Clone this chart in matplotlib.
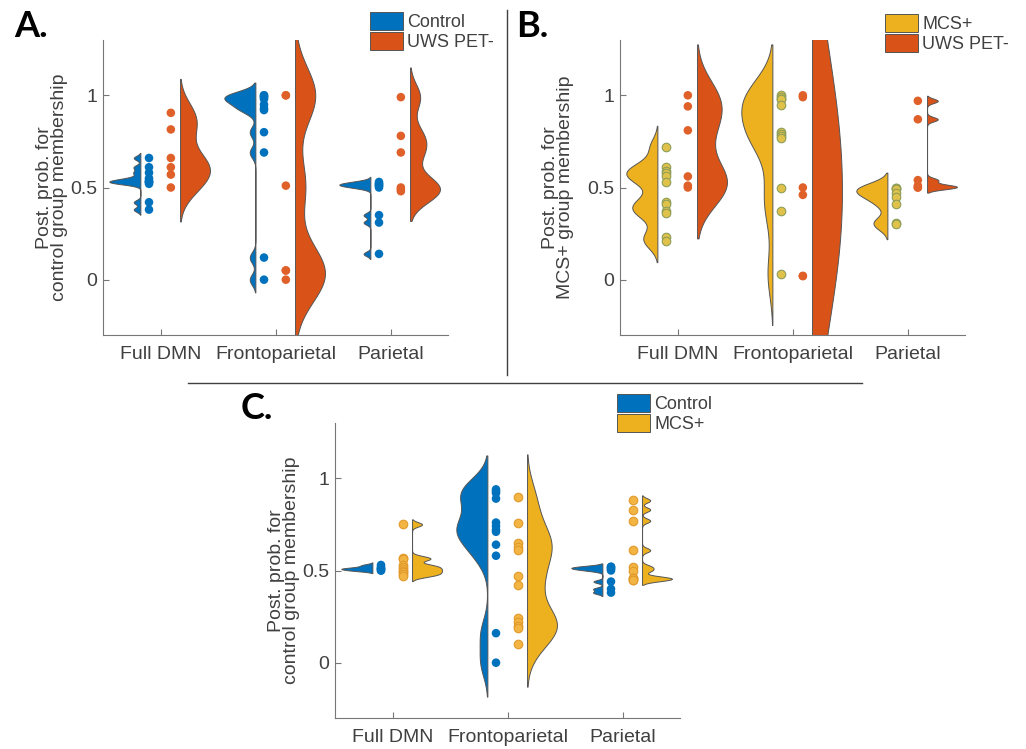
import numpy as np
import matplotlib
matplotlib.use('Agg')
import matplotlib.pyplot as plt
from matplotlib.patches import Patch
from matplotlib.lines import Line2D

plt.rcParams['font.family'] = ['Liberation Sans', 'DejaVu Sans']

regions = ['Full DMN', 'Frontoparietal', 'Parietal']

# posterior probabilities, one list per network
# A: control vs UWS PET-
a_control = [[0.66, 0.61, 0.58, 0.55, 0.54, 0.53, 0.53, 0.53, 0.52, 0.42, 0.38],
             [1.0, 1.0, 0.99, 0.99, 0.98, 0.95, 0.93, 0.92, 0.80, 0.69, 0.12, 0.0],
             [0.53, 0.52, 0.52, 0.51, 0.51, 0.50, 0.35, 0.31, 0.14]]
a_uws = [[0.905, 0.815, 0.66, 0.61, 0.57, 0.50],
         [1.0, 1.0, 0.51, 0.05, 0.05, 0.0],
         [0.99, 0.78, 0.69, 0.50, 0.49, 0.48]]
# B: MCS+ vs UWS PET-
b_mcs = [[0.72, 0.61, 0.59, 0.58, 0.56, 0.53, 0.42, 0.41, 0.37, 0.36, 0.23, 0.21],
         [1.0, 0.99, 0.98, 0.98, 0.95, 0.80, 0.79, 0.78, 0.77, 0.50, 0.37, 0.03],
         [0.50, 0.50, 0.49, 0.47, 0.45, 0.41, 0.31, 0.30]]
b_uws = [[1.0, 0.94, 0.81, 0.56, 0.51, 0.50],
         [1.0, 0.99, 0.50, 0.46, 0.02, 0.02],
         [0.97, 0.87, 0.54, 0.51, 0.50, 0.50]]
# C: control vs MCS+
c_control = [[0.53, 0.52, 0.51, 0.51, 0.51, 0.50, 0.50],
             [0.94, 0.93, 0.92, 0.89, 0.76, 0.74, 0.72, 0.71, 0.64, 0.58, 0.16, 0.0],
             [0.52, 0.52, 0.51, 0.51, 0.50, 0.44, 0.40, 0.38]]
c_mcs = [[0.75, 0.57, 0.56, 0.53, 0.52, 0.51, 0.50, 0.49, 0.48, 0.47],
         [0.90, 0.76, 0.65, 0.63, 0.61, 0.47, 0.42, 0.24, 0.22, 0.20, 0.19, 0.10],
         [0.88, 0.83, 0.77, 0.61, 0.52, 0.50, 0.46, 0.46, 0.45, 0.45]]

# kernel bandwidth of each half violin (left group, right group), judged by eye
bw_a = [(0.012, 0.08), (0.03, 0.15), (0.012, 0.07)]
bw_b = [(0.05, 0.12), (0.12, 0.5), (0.035, 0.012)]
bw_c = [(0.006, 0.012), (0.08, 0.1), (0.008, 0.012)]

BLUE = '#0072BD'
ORANGE = '#D95319'
YELLOW = '#EDB120'
GREY = '#404040'


def ksdens(vals, h):
    x = np.asarray(vals, float)
    ys = np.linspace(x.min() - 2.3 * h, x.max() + 2.3 * h, 500)
    d = np.exp(-0.5 * ((ys[:, None] - x[None, :]) / h) ** 2).sum(1)
    return ys, d / d.max()


def half_violin(ax, vals, h, base, side, colour, width):
    ys, d = ksdens(vals, h)
    ax.fill_betweenx(ys, base, base + side * width * d, facecolor=colour,
                     edgecolor='#555555', linewidth=0.7, zorder=2)


def panel(ax, left, right, bws, lcol, rcol, ldot, rdot, ylabel, lab_x, fig):
    for i in range(3):
        x = i + 1
        half_violin(ax, left[i], bws[i][0], x - 0.175, -1, lcol, 0.27)
        half_violin(ax, right[i], bws[i][1], x + 0.17, 1, rcol, 0.26)
        ax.scatter(np.full(len(left[i]), x - 0.1), left[i], s=38, zorder=3, **ldot)
        ax.scatter(np.full(len(right[i]), x + 0.09), right[i], s=38, zorder=3, **rdot)
    ax.set_xlim(0.5, 3.5)
    ax.set_ylim(-0.3, 1.3)
    ax.set_xticks([1, 2, 3], regions)
    ax.set_yticks([0, 0.5, 1], ['0', '0.5', '1'])
    for s in ['top', 'right']:
        ax.spines[s].set_visible(False)
    for s in ['left', 'bottom']:
        ax.spines[s].set_color('#777777')
        ax.spines[s].set_linewidth(0.8)
    ax.tick_params(direction='in', length=4, color='#777777', labelcolor=GREY,
                   labelsize=14)
    ax.tick_params(axis='x', pad=8)
    ax.tick_params(axis='y', pad=4)
    bb = ax.get_position()
    fig.text(lab_x, bb.y0 + bb.height / 2, ylabel, rotation=90, ha='center',
             va='center', fontsize=14, color=GREY, linespacing=0.92,
             multialignment='center')


def legend(ax, labels, colours, x, y):
    handles = [Patch(facecolor=c, edgecolor='#555555', linewidth=0.7) for c in colours]
    ax.legend(handles, labels, loc='upper left', bbox_to_anchor=(x, y),
              bbox_transform=ax.figure.transFigure, frameon=False, fontsize=13,
              handlelength=1.85, handleheight=1.15, handletextpad=0.2,
              labelspacing=0.05, borderpad=0, borderaxespad=0, labelcolor=GREY)


W, H = 1026, 749
fig = plt.figure(figsize=(W / 100, H / 100), dpi=100)

axA = fig.add_axes([103 / W, 1 - 335 / H, 345 / W, 295 / H])
axB = fig.add_axes([620 / W, 1 - 335 / H, 345 / W, 295 / H])
axC = fig.add_axes([335 / W, 1 - 718 / H, 345 / W, 295 / H])

plain = lambda c: dict(color=c, edgecolors='none')

panel(axA, a_control, a_uws, bw_a, BLUE, ORANGE, plain(BLUE), plain('#E0602A'),
      'Post. prob. for\ncontrol group membership', 52 / W, fig)
panel(axB, b_mcs, b_uws, bw_b, YELLOW, ORANGE,
      dict(color='#E0C24A', edgecolors='#8E9E58', linewidths=0.8),
      plain('#E0602A'), 'Post. prob. for\nMCS+ group membership', 558 / W, fig)
panel(axC, c_control, c_mcs, bw_c, BLUE, YELLOW, plain(BLUE),
      dict(color='#F2B544', edgecolors='#E29A2A', linewidths=0.8),
      'Post. prob. for\ncontrol group membership', 284 / W, fig)

legend(axA, ['Control', 'UWS PET-'], [BLUE, ORANGE], 370 / W, 1 - 12 / H)
legend(axB, ['MCS+', 'UWS PET-'], [YELLOW, ORANGE], 885 / W, 1 - 14 / H)
legend(axC, ['Control', 'MCS+'], [BLUE, YELLOW], 617 / W, 1 - 394 / H)

for txt, x, y in [('A.', 14, 10), ('B.', 516, 10), ('C.', 241, 392)]:
    fig.text(x / W, 1 - y / H, txt, fontsize=26, fontweight='bold',
             family='Lato', va='top', ha='left', color='black')

fig.add_artist(Line2D([507 / W, 507 / W], [1 - 10 / H, 1 - 375 / H],
                      color=GREY, linewidth=1.0))
fig.add_artist(Line2D([188 / W, 862 / W], [1 - 383 / H, 1 - 383 / H],
                      color=GREY, linewidth=1.0))

fig.savefig('out.png', dpi=100)
